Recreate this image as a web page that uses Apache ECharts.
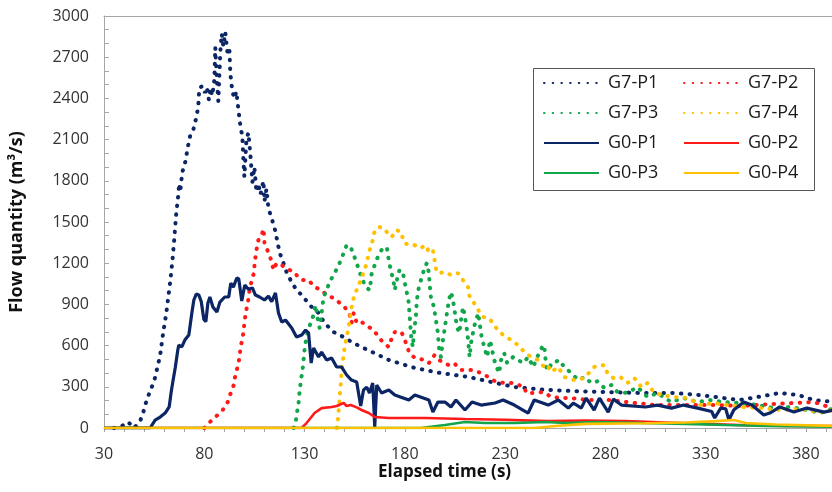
<!DOCTYPE html>
<html>
<head>
<meta charset="utf-8">
<script src="https://cdn.jsdelivr.net/npm/echarts@6/dist/echarts.min.js"></script>
<style>
  html, body { margin: 0; padding: 0; background: #fff; }
  #chart { width: 832px; height: 492px; }
</style>
</head>
<body>
<div id="chart"></div>
<script>
// flow quantity (m3/s) against elapsed time (s)
const seriesNames = ['G7-P1', 'G7-P2', 'G7-P3', 'G7-P4', 'G0-P1', 'G0-P2', 'G0-P3', 'G0-P4'];

const g7p1 = [[35,0],[39,15],[42,44],[45,0],[48,50],[49.5,110],[51,190],[53,270],[55,340],[57,465],
  [58,530],[59,640],[60,740],[61,830],[62,946],[63,1063],[64,1200],[65,1370],[66,1560],[67,1690],
  [67.5,1780],[68,1720],[69,1860],[70.5,1936],[72,2060],[73,2130],[74.5,2170],[76,2260],[77,2340],[77.5,2475],
  [79,2490],[80.3,2440],[81.3,2480],[82.3,2390],[83,2475],[84,2420],[85,2530],[85.5,2770],[86,2600],[87,2380],
  [88,2740],[88.7,2870],[89.5,2780],[90.5,2880],[91.5,2740],[92.5,2770],[93,2580],[94,2450],[95,2400],[96,2450],
  [97,2320],[98,2200],[99,2120],[99.5,1950],[100,1830],[101,2100],[102,2150],[103,1990],[104,1790],[105,1900],
  [106,1720],[107,1780],[108,1700],[109.5,1800],[110,1650],[111,1740],[112,1600],[113.5,1530],[115,1460],[116,1390],
  [117,1318],[118,1260],[119.5,1200],[121,1136],[123.5,1063],[126,1005],[129.5,954],[132.5,895],[137,837],[140,764],
  [144.5,699],[149.5,662],[153.5,626],[159.5,582],[167,531],[172,495],[185,437],[198,400],[212,371],[223,335],
  [235,298],[248,280],[264,269],[281,262],[298,255],[314,255],[327,240],[339,218],[347,204],[356,226],
  [367,255],[376,240],[384,204],[394,189]];

const g7p2 = [[80,0],[80.8,7],[83.8,58],[86.7,95],[89.2,131],[91.7,189],[93.2,255],[94.7,313],[95.2,364],[96.2,422],
  [97.2,480],[97.7,539],[98.2,597],[99.2,662],[99.7,728],[100.2,786],[100.7,844],[101.7,910],[102.7,1019],[104.7,1128],
  [105.3,1223],[106.2,1310],[107,1369],[108.5,1400],[109.6,1450],[110,1347],[111,1310],[112.6,1260],[114.6,1150],[116,1200],
  [118.6,1187],[120,1172],[122.6,1150],[125,1136],[127,1092],[129.5,1077],[132,1077],[135,1026],[138.5,1005],[141,968],
  [144.5,946],[147,917],[150,881],[152.5,823],[153.4,764],[154.5,837],[156,764],[158.4,772],[162,735],[164.5,713],
  [167,660],[169.4,619],[172,590],[173.4,650],[175,699],[178.3,699],[180,640],[182.3,546],[185,510],[190,495],
  [192,473],[194.8,531],[197,495],[201.7,459],[204.5,473],[208,422],[214,422],[218,400],[221.6,371],[225.6,335],
  [230,328],[234,328],[239.6,298],[240.5,255],[244.5,255],[249,262],[253,226],[258,218],[262,218],[272,204],
  [282,204],[295,182],[305,167],[319,167],[336,167],[347.6,160],[364,175],[384,189],[394,140]];

const g7p3 = [[124.6,0],[125.5,36],[126.2,109],[127,182],[127.6,277],[128.2,349],[129,422],[129.5,495],[130,568],[130.7,640],
  [131.5,699],[133,764],[134.5,823],[135.5,895],[136.5,801],[137.5,728],[138.5,837],[139.5,954],[141,1005],[142.5,1063],
  [145,1128],[147.5,1201],[149.5,1274],[151,1332],[153,1318],[154.5,1260],[156,1201],[157.4,1136],[159.4,1063],[161,1019],
  [162.5,1005],[163.5,1128],[165,1187],[166.5,1245],[168.4,1296],[170,1310],[171,1318],[172,1223],[173,1150],[174.3,1077],
  [175,1005],[175.8,1063],[177.3,1150],[179,1136],[180.5,1019],[181.8,932],[182.3,837],[182.8,735],[183.3,640],[184,590],
  [184.5,692],[185.5,808],[186,932],[187,1026],[188.5,1100],[190,1172],[191,1201],[192,1128],[192.5,1026],[193,954],
  [194.5,881],[195.5,786],[196.5,692],[197,590],[198,517],[199,640],[200,735],[201,837],[202,932],[203,990],
  [204,932],[205,837],[206,735],[207.2,692],[208,786],[209,881],[210,808],[211,713],[211.7,619],[212.3,517],
  [213,619],[214.5,735],[216.6,837],[217.3,764],[218.3,662],[219.6,590],[221,517],[222.5,640],[223.5,568],[225,473],
  [227,400],[228,495],[229.5,546],[231,473],[234,517],[236.5,495],[239,473],[241.5,517],[244,444],[246.5,531],
  [248.5,590],[249.5,604],[250.5,444],[252,422],[253,473],[255,480],[257,495],[259.5,444],[263,400],[266.5,349],
  [269.5,371],[273,328],[276,340],[279.5,291],[283,313],[286,262],[291,255],[296,298],[301,226],[306,255],
  [312.7,189],[319,218],[326,189],[332,204],[339,189],[347.6,182],[356,167],[364,145],[372,153],[380.5,131],
  [387,109],[394,145]];

const g7p4 = [[146,0],[146.5,36],[147,131],[147.5,226],[148,313],[148.5,422],[149.3,510],[150,590],[151,662],[152,735],
  [152.7,808],[153.5,881],[155,983],[157,1026],[157.7,1077],[159.4,1128],[161,1201],[162,1274],[163,1318],[164.3,1383],
  [165,1441],[167.4,1463],[169.5,1456],[171,1427],[173.4,1390],[175.8,1441],[178.3,1427],[179.3,1354],[181.8,1332],[184.8,1332],
  [188,1310],[190.3,1332],[192,1281],[194,1296],[195.8,1136],[197.3,1128],[200,1136],[203,1114],[206.5,1128],[209,1077],
  [211.5,1026],[212,968],[214.5,910],[216.6,859],[219,808],[222,801],[225.6,728],[229,677],[233,640],[236.4,604],
  [239.6,553],[243,517],[246.5,495],[249.5,444],[251,459],[253,408],[256.5,444],[259.5,371],[264.5,349],[269.5,364],
  [274.4,444],[279.5,459],[281,400],[284,364],[287.5,371],[291,328],[294.5,364],[298,298],[301,328],[304,262],
  [308,240],[314,226],[321,218],[327.6,167],[334,182],[341,167],[347.6,153],[357.5,145],[367.5,131],[377.5,138],
  [387,116],[394,131]];

const g0p1 = [[30,0],[53,0],[55.5,58],[58,80],[60.5,109],[62.5,153],[63.5,262],[64.3,335],[65.5,437],[66.8,568],
  [67.3,604],[68.8,590],[70.3,640],[72.3,677],[73.8,837],[74.8,932],[76,975],[77.3,968],[78.5,920],[79.8,790],
  [80.8,775],[81.8,910],[82.8,954],[84.3,881],[86.3,844],[87.8,917],[90.2,954],[92.2,954],[93.2,1055],[94.5,1026],
  [96.2,1092],[97.2,1085],[98.7,925],[100.2,1041],[102,1010],[104,1020],[105.5,968],[107.6,954],[110,932],[112,960],
  [113.6,920],[115.5,983],[117,837],[118.6,772],[120.5,786],[123.6,728],[126,662],[128.6,677],[130.5,713],[132,692],
  [133.3,473],[134.5,582],[137,517],[138.5,553],[141,495],[143.5,510],[146,444],[148.5,444],[151,386],[153.4,349],
  [156,335],[158,160],[159.4,277],[161,298],[162.4,255],[164,328],[165,7],[166,313],[168.4,255],[172,277],
  [175,240],[182,204],[185,240],[192,204],[194,116],[196.5,189],[200,189],[203,153],[205.5,204],[210,131],
  [213.5,189],[218,167],[225,182],[229,204],[234.6,167],[241.5,109],[244.5,204],[251.5,167],[256.5,204],[261.5,145],
  [264,182],[268,145],[270.4,218],[274.4,131],[277,218],[281.4,116],[284,210],[288,167],[300,153],[306,167],
  [313,145],[319,167],[326,145],[333,120],[334.5,73],[337.5,145],[340,140],[341.6,58],[344,131],[349,189],
  [353,167],[359,95],[362,109],[367,153],[374,116],[380.5,145],[389,116],[394,131]];

const g0p2 = [[30,0],[128.5,0],[131,36],[135,109],[138.5,145],[143.5,153],[146,160],[149.5,182],[151,160],[153,167],
  [156,150],[158.4,131],[162,109],[165,80],[172,73],[190,73],[210,66],[230,60],[251.5,50],[270,55],
  [290,50],[310,40],[330,30],[350,20],[370,15],[394,15]];

const g0p3 = [[30,0],[188,0],[200,22],[210,44],[220,36],[235,36],[250,44],[260,36],[275,44],[298,36],
  [320,30],[340,22],[360,15],[394,10]];

const g0p4 = [[30,0],[245,0],[255,15],[270,30],[300,35],[320,40],[335,50],[344,58],[350,36],[365,25],
  [380,20],[394,15]];

const seriesData = [g7p1, g7p2, g7p3, g7p4, g0p1, g0p2, g0p3, g0p4];
const seriesColors = ['#0b2565', '#ff1a1a', '#12a64a', '#ffc000', '#0b2565', '#ff1a1a', '#12a64a', '#ffc000'];

const font = 'Open Sans';
const axisGrey = '#a6a6a6';

var chart = echarts.init(document.getElementById('chart'));

var series = seriesNames.map(function (name, i) {
  var dotted = i < 4;
  return {
    name: name,
    type: 'line',
    data: seriesData[i],
    showSymbol: false,
    symbol: 'none',
    animation: false,
    color: seriesColors[i],
    lineStyle: dotted
      ? { color: seriesColors[i], width: 4, type: [0.5, 8.2], cap: 'round' }
      : { color: seriesColors[i], width: i === 4 ? 3.2 : 2.6 }
  };
});

var legendBase = {
  orient: 'vertical', top: 73, padding: 0,
  itemWidth: 55, itemHeight: 14, itemGap: 10,
  itemStyle: { opacity: 0 },
  textStyle: { fontFamily: font, fontSize: 18, lineHeight: 20, color: '#1a1a1a', padding: [0, 0, 0, 4] }
};

chart.setOption({
  animation: false,
  grid: { left: 102, right: 0, top: 16, bottom: 64 },
  legend: [
    Object.assign({}, legendBase, { data: ['G7-P1', 'G7-P3', 'G0-P1', 'G0-P3'], left: 543 }),
    Object.assign({}, legendBase, { data: ['G7-P2', 'G7-P4', 'G0-P2', 'G0-P4'], left: 683 })
  ],
  graphic: [
    {
      type: 'rect', left: 531, top: 66, z: 50,
      shape: { width: 281, height: 122 },
      style: { fill: 'none', stroke: '#555', lineWidth: 1 }
    },
    {
      type: 'text', left: 378, top: 464,
      style: { text: 'Elapsed time (s)', font: 'bold 17px "Open Sans"', fill: '#111' }
    }
  ],
  xAxis: [
    {
      type: 'value', min: 30, max: 393, interval: 50,
      axisLine: { lineStyle: { color: axisGrey } },
      axisTick: { show: true, length: 4, lineStyle: { color: axisGrey } },
      minorTick: { show: true, splitNumber: 5, length: 4, lineStyle: { color: axisGrey } },
      splitLine: { show: false },
      axisLabel: { showMaxLabel: false, margin: 18, fontFamily: font, fontSize: 16, color: '#333' }
    },
    {
      type: 'value', position: 'top', min: 30, max: 393,
      axisLine: { show: true, onZero: false, lineStyle: { color: axisGrey } },
      axisTick: { show: false }, axisLabel: { show: false }, splitLine: { show: false }
    }
  ],
  yAxis: {
    type: 'value', min: 0, max: 3000, interval: 300,
    name: 'Flow quantity (m³/s)', nameLocation: 'middle', nameGap: 78,
    nameTextStyle: { fontFamily: font, fontSize: 18, fontWeight: 'bold', color: '#111' },
    axisLine: { show: true, lineStyle: { color: axisGrey } },
    axisTick: { show: true, inside: true, length: 5, lineStyle: { color: axisGrey } },
    minorTick: { show: true, splitNumber: 3, length: 5, lineStyle: { color: axisGrey } },
    splitLine: { show: false },
    axisLabel: {
      margin: 15, fontFamily: font, fontSize: 16, color: '#333',
      formatter: function (v) { return String(v); }
    }
  },
  series: series
});
</script>
</body>
</html>
